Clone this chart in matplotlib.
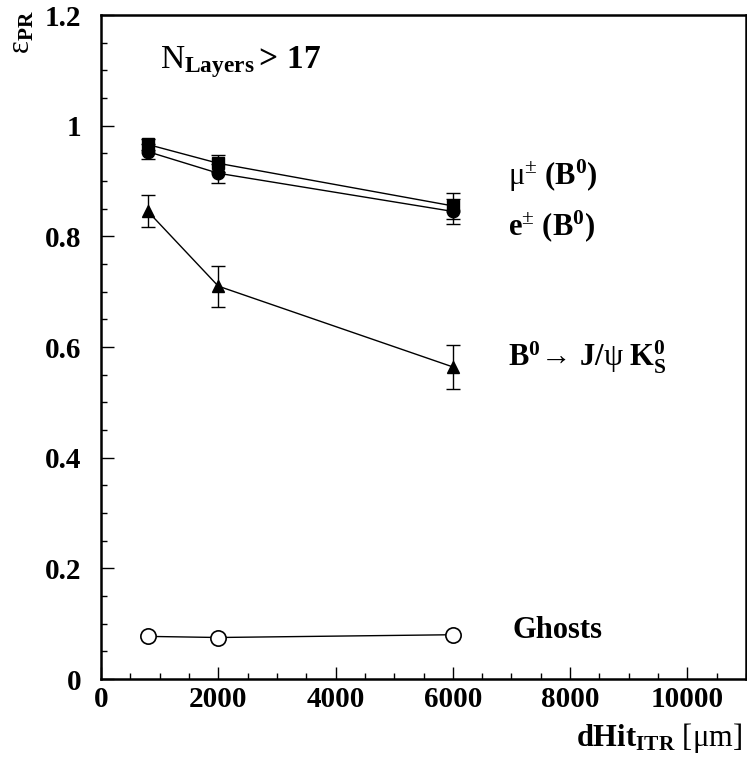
import matplotlib
matplotlib.use("Agg")
import matplotlib.pyplot as plt
from matplotlib.ticker import MultipleLocator

plt.rcParams['font.family'] = ['Liberation Serif', 'DejaVu Serif']
plt.rcParams['mathtext.fontset'] = 'custom'
plt.rcParams['mathtext.rm'] = 'Liberation Serif'
plt.rcParams['mathtext.bf'] = 'Liberation Serif:bold'
plt.rcParams['mathtext.it'] = 'Liberation Serif:italic'

# hit distance in the ITR [um]
dhit = [800, 2000, 6000]

# pattern-recognition efficiencies
eff_mu = [0.966, 0.932, 0.855]
err_mu = [0.010, 0.015, 0.024]
eff_e = [0.953, 0.914, 0.845]
err_e = [0.013, 0.017, 0.022]
eff_jpsi = [0.845, 0.710, 0.564]
err_jpsi = [0.029, 0.037, 0.040]
frac_ghost = [0.077, 0.075, 0.080]

xticks = [0, 2000, 4000, 6000, 8000, 10000]
xticklabels = ['0', '2000', '4000', '6000', '8000', '10000']
yticks = [0, 0.2, 0.4, 0.6, 0.8, 1.0, 1.2]
yticklabels = ['0', '0.2', '0.4', '0.6', '0.8', '1', '1.2']

W, H = 747, 764
fig = plt.figure(figsize=(W / 100, H / 100), dpi=100)
x0, x1, y0, y1 = 101, 746, 15, 679
ax = fig.add_axes([x0 / W, 1 - y1 / H, (x1 - x0) / W, (y1 - y0) / H])

kw = dict(color='black', lw=1.0, capsize=5, elinewidth=1.0, capthick=1.0, markersize=9)
ax.errorbar(dhit, eff_mu, yerr=err_mu, marker='s', **kw)
ax.errorbar(dhit, eff_e, yerr=err_e, marker='o', **kw)
ax.errorbar(dhit, eff_jpsi, yerr=err_jpsi, marker='^', **kw)
ax.plot(dhit, frac_ghost, marker='o', color='black', lw=1.0, markersize=11,
        markerfacecolor='white', markeredgewidth=1.2)

ax.set_xlim(0, 11000)
ax.set_ylim(0, 1.2)
ax.xaxis.set_minor_locator(MultipleLocator(500))
ax.yaxis.set_minor_locator(MultipleLocator(0.05))
ax.set_xticks(xticks)
ax.set_xticklabels(xticklabels)
ax.set_yticks(yticks)
ax.set_yticklabels(yticklabels)
ax.tick_params(which='both', direction='in', top=False, right=False)
ax.tick_params(which='major', length=9, width=1.0)
ax.tick_params(which='minor', length=4.5, width=1.0)
ax.tick_params(axis='y', pad=14)
ax.tick_params(axis='x', pad=5)
for lab in ax.get_xticklabels() + ax.get_yticklabels():
    lab.set_fontsize(21)
    lab.set_fontweight('bold')
for s in ax.spines.values():
    s.set_linewidth(1.8)


def ptxt(x, y, s, **k):
    # text placed in figure pixels, measured from the top-left corner
    fig.text(x / W, 1 - y / H, s, **k)


fs = 22
ptxt(160, 62, r'N$_{\mathbf{Layers}}$$\mathbf{>\,17}$', fontsize=24, va='center', ha='left')
ptxt(508, 176, r'$\mathrm{\mu}^{\pm}$ $\mathbf{(B^{0})}$', fontsize=fs, va='center', ha='left')
ptxt(508, 226, r'$\mathbf{e}^{\pm}$ $\mathbf{(B^{0})}$', fontsize=fs, va='center', ha='left')
ptxt(508, 357, r'$\mathbf{B^{0}}\!\rightarrow\,\mathbf{J/}\mathrm{\psi}\ \mathbf{K^{0}_{S}}$',
     fontsize=fs, va='center', ha='left')
ptxt(512, 630, 'Ghosts', fontsize=fs, fontweight='bold', va='center', ha='left')
ptxt(742, 738, r'$\mathbf{dHit_{ITR}}$ [$\mathrm{\mu}$m]', fontsize=fs, va='center', ha='right')
ptxt(22, 32, r'$\mathrm{\varepsilon}_{\mathbf{PR}}$', fontsize=fs, va='center', ha='center', rotation=90)

fig.savefig('out.png', dpi=100)
